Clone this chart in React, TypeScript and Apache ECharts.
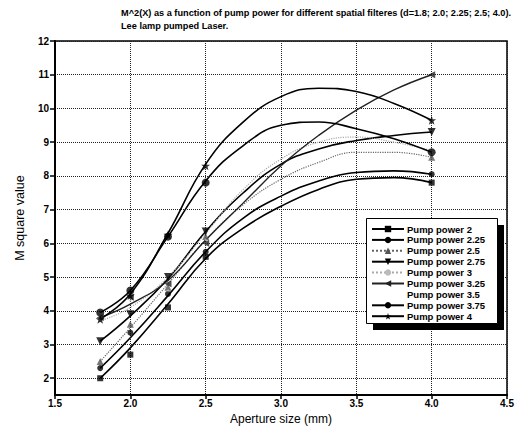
import React, { useEffect, useRef } from "react";
import * as echarts from "echarts";

// measured aperture sizes (mm)
const pointX = [1.8, 2.0, 2.25, 2.5, 4.0];
const curveX = [1.8, 2.0, 2.25, 2.5, 2.75, 3.0, 3.25, 3.5, 3.75, 4.0];

const names = [
  "Pump power 2",
  "Pump power 2.25",
  "Pump power 2.5",
  "Pump power 2.75",
  "Pump power 3",
  "Pump power 3.25",
  "Pump power 3.5",
  "Pump power 3.75",
  "Pump power 4",
];

// measured M^2 values (markers)
const p2 = [2.0, 2.7, 4.1, 5.6, 7.8];
const p225 = [2.3, 3.35, 4.5, 5.75, 8.05];
const p25 = [2.5, 3.6, 4.7, 6.2, 8.55];
const p275 = [3.1, 3.9, 5.0, 6.35, 9.3];
const p3 = [3.7, 4.3, 4.6, 6.1, 8.75];
const p325 = [3.8, 4.4, 4.8, 6.0, 11.0];
const p35 = [3.85, 4.35, 4.65, 5.95, 8.6];
const p375 = [3.95, 4.6, 6.2, 7.8, 8.7];
const p4 = [3.75, 4.45, 6.25, 8.3, 9.65];

// fitted curves
const c2 = [2.0, 2.9, 4.2, 5.55, 6.45, 7.1, 7.6, 7.9, 7.95, 7.8];
const c225 = [2.3, 3.2, 4.45, 5.75, 6.75, 7.4, 7.85, 8.1, 8.15, 8.05];
const c25 = [2.5, 3.5, 4.8, 6.1, 7.15, 7.9, 8.4, 8.7, 8.7, 8.55];
const c275 = [3.1, 3.85, 4.95, 6.35, 7.5, 8.35, 8.8, 9.05, 9.2, 9.3];
const c3 = [3.7, 4.1, 5.0, 6.3, 7.6, 8.5, 9.0, 9.15, 9.0, 8.75];
const c325 = [3.8, 4.2, 4.9, 6.1, 7.2, 8.3, 9.2, 9.95, 10.55, 11.0];
const c35 = [3.85, 4.3, 4.9, 6.0, 7.0, 7.8, 8.3, 8.6, 8.7, 8.6];
const c375 = [3.95, 4.6, 6.2, 7.85, 8.9, 9.5, 9.6, 9.4, 9.1, 8.7];
const c4 = [3.75, 4.5, 6.3, 8.35, 9.6, 10.35, 10.6, 10.5, 10.15, 9.65];

const yTicks = [2, 3, 4, 5, 6, 7, 8, 9, 10, 11, 12];

const FONT = "'Liberation Sans', Arial, Helvetica, sans-serif";

export default function App() {
  const ref = useRef<HTMLDivElement>(null);
  useEffect(() => {
    document.body.style.margin = "0";
    if (!ref.current) return;
    const chart = echarts.init(ref.current, undefined, { renderer: "svg" });

    const points = [p2, p225, p25, p275, p3, p325, p35, p375, p4];
    const curves = [c2, c225, c25, c275, c3, c325, c35, c375, c4];
    const styles: any[] = [
      { symbol: "rect", size: 6, color: "#000", line: { color: "#000", width: 1.6, type: "solid" }, rot: 0 },
      { symbol: "circle", size: 6, color: "#000", line: { color: "#000", width: 1.6, type: "solid" }, rot: 0 },
      { symbol: "triangle", size: 7, color: "#555", line: { color: "#666", width: 1.2, type: "dotted" }, rot: 0 },
      { symbol: "triangle", size: 8, color: "#000", line: { color: "#000", width: 1.6, type: "solid" }, rot: 180 },
      { symbol: "circle", size: 2, color: "#bbb", line: { color: "#aaa", width: 1.2, type: "dotted" }, rot: 0 },
      { symbol: "triangle", size: 7, color: "#222", line: { color: "#222", width: 1.4, type: "solid" }, rot: 90 },
      { symbol: "none", size: 0, color: "#000", line: { color: "#000", width: 1, type: "solid", opacity: 0 }, rot: 0, hidden: true },
      { symbol: "circle", size: 8, color: "#000", line: { color: "#000", width: 1.6, type: "solid" }, rot: 0 },
      { symbol: "path://M0,-10 L2.35,-3.1 9.5,-3.1 3.8,1.2 5.9,8.1 0,4 -5.9,8.1 -3.8,1.2 -9.5,-3.1 -2.35,-3.1 Z", size: 9, color: "#000", line: { color: "#000", width: 1.6, type: "solid" }, rot: 0 },
    ];

    const series: any[] = [];
    names.forEach((n, i) => {
      const s = styles[i];
      series.push({
        name: n,
        type: "line",
        smooth: 0.45,
        showSymbol: false,
        symbol: s.symbol,
        symbolSize: s.size,
        symbolRotate: s.rot,
        itemStyle: { color: s.color, opacity: s.hidden ? 0 : 1 },
        lineStyle: s.line,
        data: curveX.map((x, k) => [x, curves[i][k]]),
        z: 2,
      });
      if (!s.hidden) {
        series.push({
          name: n,
          type: "scatter",
          symbol: s.symbol,
          symbolSize: s.size,
          symbolRotate: s.rot,
          itemStyle: { color: s.color },
          data: pointX.map((x, k) => [x, points[i][k]]),
          z: 3,
        });
      }
    });

    chart.setOption({
      animation: false,
      backgroundColor: "#fff",
      textStyle: { fontFamily: FONT },
      title: {
        text: "M^2(X) as a function of pump power for different spatial filteres (d=1.8; 2.0; 2.25; 2.5; 4.0).\nLee lamp pumped Laser.",
        left: 116,
        top: 2,
        textStyle: { fontSize: 9.2, fontWeight: "bold", color: "#000", lineHeight: 12.5, fontFamily: FONT },
      },
      grid: {
        left: 55,
        right: 10,
        top: 41,
        bottom: 26,
        show: true,
        borderColor: "#000",
        borderWidth: 1.5,
        backgroundColor: "transparent",
      },
      xAxis: {
        type: "value",
        min: 1.5,
        max: 4.5,
        interval: 0.5,
        name: "Aperture size (mm)",
        nameLocation: "middle",
        nameGap: 11,
        nameTextStyle: { fontSize: 12, color: "#000", fontFamily: FONT },
        axisLine: { lineStyle: { color: "#000", width: 2 } },
        axisTick: { show: true, inside: false, length: 4, lineStyle: { color: "#000", width: 1.5 } },
        axisLabel: {
          fontSize: 10,
          fontWeight: "bold",
          color: "#000",
          margin: 3,
          formatter: (v: number) => v.toFixed(1),
        },
        splitLine: { show: true, lineStyle: { color: "#222", type: "dotted", width: 1 } },
      },
      yAxis: {
        type: "value",
        min: 1.5,
        max: 12,
        name: "M square value",
        nameLocation: "middle",
        nameGap: 29,
        nameTextStyle: { fontSize: 12.5, color: "#000", fontFamily: FONT },
        axisLine: { lineStyle: { color: "#000", width: 2 } },
        axisTick: { show: true, length: 5, customValues: yTicks, lineStyle: { color: "#000", width: 1.5 } },
        axisLabel: { fontSize: 10, fontWeight: "bold", color: "#000", margin: 6, customValues: yTicks },
        splitLine: { show: true, lineStyle: { color: "#222", type: "dotted", width: 1 } },
      },
      legend: {
        data: names,
        orient: "vertical",
        left: 366,
        top: 219,
        padding: [5, 8, 5, 5],
        itemWidth: 32,
        itemHeight: 8,
        itemGap: 0.9,
        textStyle: { fontSize: 9.5, lineHeight: 10, fontWeight: "bold", color: "#000", fontFamily: FONT, padding: [0, 0, 0, -2] },
        z: 10,
      },
      graphic: [
        {
          type: "rect",
          left: 373,
          top: 225,
          shape: { width: 131, height: 105 },
          style: { fill: "#000" },
          z: 5,
        },
        {
          type: "rect",
          left: 366,
          top: 218,
          shape: { width: 131, height: 105 },
          style: { fill: "#fff", stroke: "#000", lineWidth: 1 },
          z: 6,
        },
      ],
      series,
    });
    return () => chart.dispose();
  }, []);
  return <div ref={ref} style={{ width: 517, height: 430 }} />;
}
